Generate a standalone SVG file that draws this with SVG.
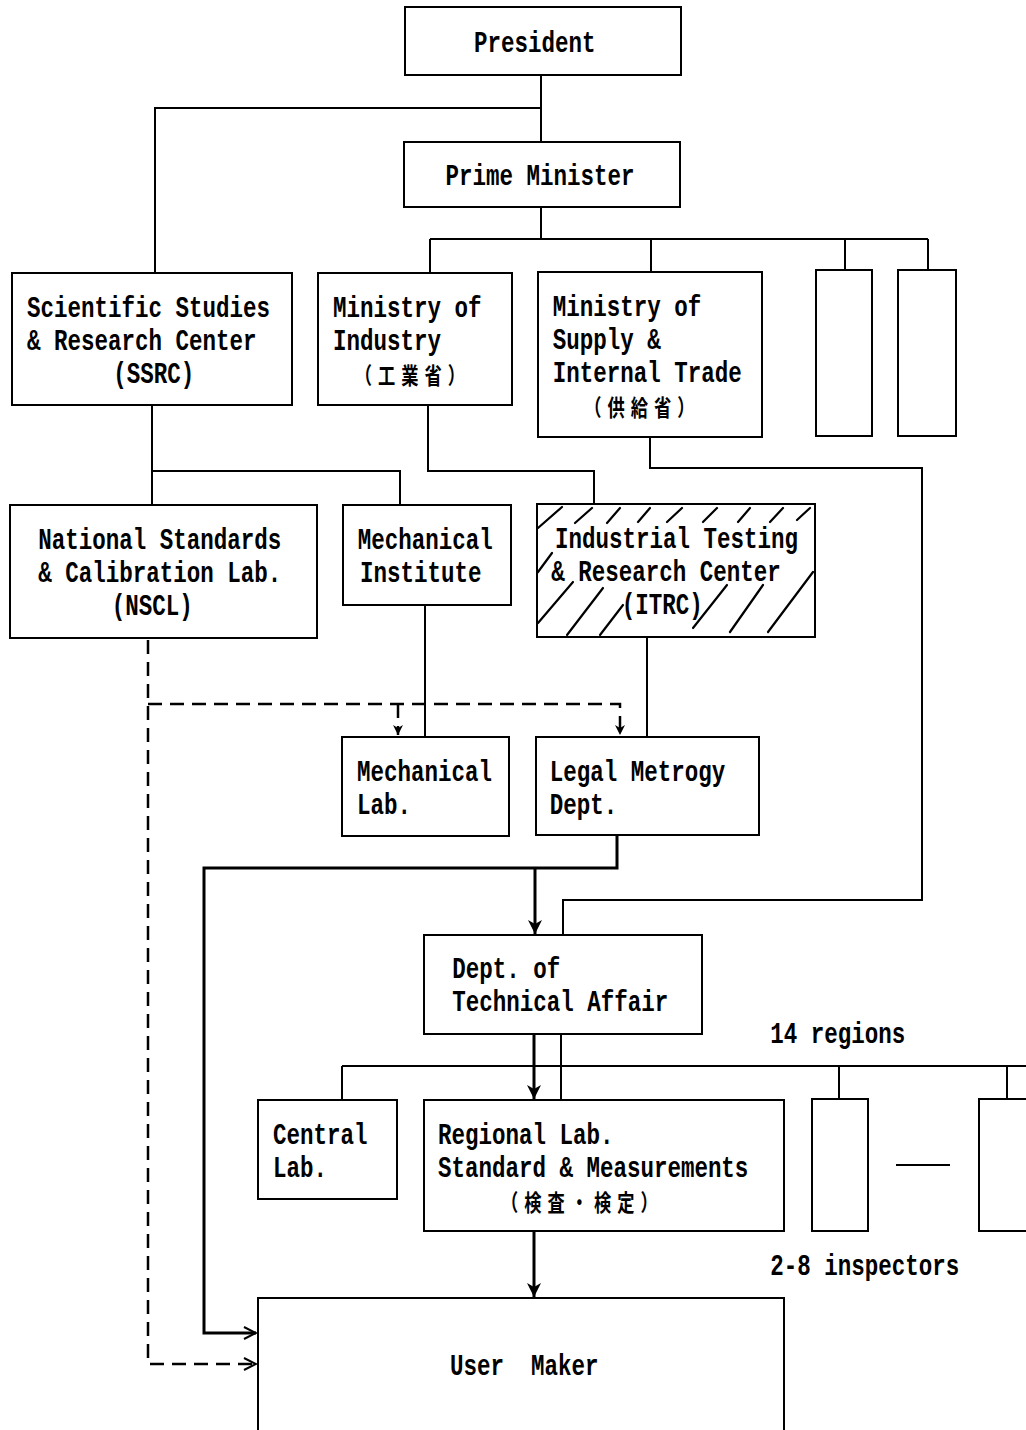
<svg xmlns="http://www.w3.org/2000/svg" width="1026" height="1430" viewBox="0 0 1026 1430">
<style>
.box{fill:#fff;stroke:#000;stroke-width:2}
.t{font-family:"Liberation Mono","DejaVu Sans Mono",monospace;font-weight:bold;font-size:30px;fill:#000}
.cjk{font-family:"Noto Sans CJK JP","Noto Sans CJK SC",sans-serif;font-weight:bold;font-size:23px;letter-spacing:8px;fill:#000}
.ln{fill:none;stroke:#000;stroke-width:2}
.thick{fill:none;stroke:#000;stroke-width:3}
.dash{fill:none;stroke:#000;stroke-width:2.5;stroke-dasharray:14 8}
.hatch{stroke:#000;stroke-width:2.2;stroke-linecap:round}
</style>
<defs>
<marker id="fa" markerUnits="userSpaceOnUse" markerWidth="16" markerHeight="16" refX="14" refY="7" orient="auto">
<path d="M0,0 L14,7 L0,14 L4,7 z" fill="#000"/>
</marker>
<marker id="oa" markerUnits="userSpaceOnUse" markerWidth="16" markerHeight="16" refX="13" refY="7" orient="auto">
<path d="M1,1 L13,7 L1,13" fill="none" stroke="#000" stroke-width="2"/>
</marker>
<marker id="da" markerUnits="userSpaceOnUse" markerWidth="12" markerHeight="12" refX="10" refY="5" orient="auto">
<path d="M0,0 L10,5 L0,10 L3,5 z" fill="#000"/>
</marker>
</defs>
<rect width="1026" height="1430" fill="#fff"/>

<g id="connectors">
<path class="ln" d="M541,75 V142"/>
<path class="ln" d="M541,108 H155 V273"/>
<path class="ln" d="M541,207 V239"/>
<path class="ln" d="M430,239 H928"/>
<path class="ln" d="M430,239 V273 M651,239 V272 M845,239 V270 M928,239 V270"/>
<path class="ln" d="M152,405 V505 M152,471 H400 V505"/>
<path class="ln" d="M428,405 V471 H594 V503"/>
<path class="ln" d="M650,437 V468 H922 V900 H563 V935"/>
<path class="ln" d="M425,605 V737"/>
<path class="ln" d="M647,637 V737"/>
<path class="thick" d="M617,835 V868 H204 V1333 H256" marker-end="url(#oa)"/>
<path class="thick" d="M535,868 V934" marker-end="url(#fa)"/>
<path class="thick" d="M534,1034 V1099" marker-end="url(#fa)"/>
<path class="ln" d="M561,1034 V1100"/>
<path class="ln" d="M342,1066 H1026 M342,1066 V1100 M839,1066 V1099 M1007,1066 V1099"/>
<path class="thick" d="M534,1231 V1297" marker-end="url(#fa)"/>
<path class="ln" d="M896,1165 H950"/>
<path class="dash" d="M148,640 V1364 H256" marker-end="url(#oa)"/>
<path class="dash" d="M148,704 H620 V735" marker-end="url(#da)"/>
<path class="dash" d="M398,704 V735" marker-end="url(#da)"/>
</g>

<g id="president">
<rect class="box" x="405" y="7" width="276" height="68"/>
<g transform="scale(0.75,1)"><text class="t" x="713" y="52" text-anchor="middle">President</text></g>
</g>

<g id="prime-minister">
<rect class="box" x="404" y="142" width="276" height="65"/>
<g transform="scale(0.75,1)"><text class="t" x="720" y="185" text-anchor="middle">Prime Minister</text></g>
</g>

<g id="ssrc">
<rect class="box" x="12" y="273" width="280" height="132"/>
<g transform="scale(0.75,1)">
<text class="t" x="36" y="317">Scientific Studies</text>
<text class="t" x="36" y="350">&amp; Research Center</text>
<text class="t" x="151" y="383">(SSRC)</text>
</g>
</g>

<g id="ministry-industry">
<rect class="box" x="318" y="273" width="194" height="132"/>
<g transform="scale(0.75,1)">
<text class="t" x="444" y="317">Ministry of</text>
<text class="t" x="444" y="350">Industry</text>
<text class="cjk" x="473" y="384">（工業省）</text>
</g>
</g>

<g id="ministry-supply">
<rect class="box" x="538" y="272" width="224" height="165"/>
<g transform="scale(0.75,1)">
<text class="t" x="737" y="316">Ministry of</text>
<text class="t" x="737" y="349">Supply &amp;</text>
<text class="t" x="737" y="382">Internal Trade</text>
<text class="cjk" x="779" y="416">（供給省）</text>
</g>
</g>

<g id="ministry-3">
<rect class="box" x="816" y="270" width="56" height="166"/>
</g>
<g id="ministry-4">
<rect class="box" x="898" y="270" width="58" height="166"/>
</g>

<g id="nscl">
<rect class="box" x="10" y="505" width="307" height="133"/>
<g transform="scale(0.75,1)">
<text class="t" x="51" y="549">National Standards</text>
<text class="t" x="51" y="582">&amp; Calibration Lab.</text>
<text class="t" x="149" y="615">(NSCL)</text>
</g>
</g>

<g id="mechanical-institute">
<rect class="box" x="343" y="505" width="168" height="100"/>
<g transform="scale(0.75,1)">
<text class="t" x="477" y="549">Mechanical</text>
<text class="t" x="480" y="582">Institute</text>
</g>
</g>

<g id="itrc">
<rect class="box" x="537" y="504" width="278" height="133"/>
<g class="hatch">
<line x1="538" y1="528" x2="562" y2="507"/>
<line x1="575" y1="523" x2="592" y2="508"/>
<line x1="607" y1="523" x2="620" y2="508"/>
<line x1="638" y1="522" x2="650" y2="508"/>
<line x1="667" y1="522" x2="682" y2="508"/>
<line x1="703" y1="522" x2="717" y2="508"/>
<line x1="738" y1="522" x2="750" y2="508"/>
<line x1="770" y1="522" x2="783" y2="508"/>
<line x1="797" y1="520" x2="810" y2="508"/>
<line x1="538" y1="572" x2="552" y2="553"/>
<line x1="538" y1="623" x2="573" y2="582"/>
<line x1="567" y1="635" x2="603" y2="588"/>
<line x1="600" y1="635" x2="623" y2="605"/>
<line x1="693" y1="628" x2="727" y2="585"/>
<line x1="730" y1="632" x2="763" y2="585"/>
<line x1="768" y1="632" x2="813" y2="572"/>
</g>
<g transform="scale(0.75,1)">
<text class="t" x="740" y="548">Industrial Testing</text>
<text class="t" x="735" y="581">&amp; Research Center</text>
<text class="t" x="829" y="614">(ITRC)</text>
</g>
</g>

<g id="mechanical-lab">
<rect class="box" x="342" y="737" width="167" height="99"/>
<g transform="scale(0.75,1)">
<text class="t" x="476" y="781">Mechanical</text>
<text class="t" x="476" y="814">Lab.</text>
</g>
</g>

<g id="legal-metrology">
<rect class="box" x="536" y="737" width="223" height="98"/>
<g transform="scale(0.75,1)">
<text class="t" x="733" y="781">Legal Metrogy</text>
<text class="t" x="733" y="814">Dept.</text>
</g>
</g>

<g id="dept-technical">
<rect class="box" x="424" y="935" width="278" height="99"/>
<g transform="scale(0.75,1)">
<text class="t" x="603" y="978">Dept. of</text>
<text class="t" x="603" y="1011">Technical Affair</text>
</g>
</g>

<g id="label-regions">
<g transform="scale(0.75,1)"><text class="t" x="1027" y="1043">14 regions</text></g>
</g>

<g id="central-lab">
<rect class="box" x="258" y="1100" width="139" height="99"/>
<g transform="scale(0.75,1)">
<text class="t" x="364" y="1144">Central</text>
<text class="t" x="364" y="1177">Lab.</text>
</g>
</g>

<g id="regional-lab">
<rect class="box" x="424" y="1100" width="360" height="131"/>
<g transform="scale(0.75,1)">
<text class="t" x="584" y="1144">Regional Lab.</text>
<text class="t" x="584" y="1177">Standard &amp; Measurements</text>
<text class="cjk" x="668" y="1211">（検査・検定）</text>
</g>
</g>

<g id="regional-2">
<rect class="box" x="812" y="1099" width="56" height="132"/>
</g>
<g id="regional-n">
<rect class="box" x="979" y="1099" width="60" height="132"/>
</g>

<g id="label-inspectors">
<g transform="scale(0.75,1)"><text class="t" x="1027" y="1275">2-8 inspectors</text></g>
</g>

<g id="user-maker">
<rect class="box" x="258" y="1298" width="526" height="150"/>
<g transform="scale(0.75,1)"><text class="t" x="600" y="1375" xml:space="preserve">User  Maker</text></g>
</g>
</svg>
